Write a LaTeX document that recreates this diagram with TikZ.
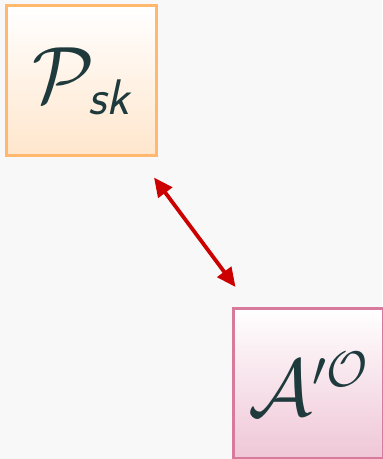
\documentclass[tikz,border=0pt]{standalone}
\usepackage{fix-cm}
\usepackage{amsmath}
\usepackage{amssymb}
\usepackage{tikz}
\usepackage{xcolor}
\usetikzlibrary{arrows.meta,calc}
\DeclareMathSizes{40}{40}{25}{18}

\definecolor{bgcol}{HTML}{F8F8F8}
\definecolor{inkcol}{HTML}{1F3A3D}
\definecolor{orline}{HTML}{FFB86E}
\definecolor{orfill}{HTML}{FFE6CC}
\definecolor{pkline}{HTML}{D87A9C}
\definecolor{pkfill}{HTML}{EFC6D6}
\definecolor{arrcol}{HTML}{CC0000}

\tikzset{
  party/.style={draw, line width=1.5pt, minimum width=75pt, minimum height=75pt,
    inner sep=0pt, text=inkcol, font=\fontsize{40}{46}\selectfont},
  prover/.style={party, draw=orline, top color=white, bottom color=orfill},
  advers/.style={party, draw=pkline, top color=white, bottom color=pkfill},
  link/.style={<->, >={Triangle[length=9.5pt,width=8.5pt]}, line width=1.9pt, arrcol}
}

\begin{document}
\begin{tikzpicture}[x=0.5pt,y=-0.5pt]
    \useasboundingbox (0,0) rectangle (382,459);
    \fill[bgcol] (0,0) rectangle (382,459);
    \node[prover] (psk) at (81.5,81) {$\mathcal{P}_{\textsf{\itshape sk}}$};
    \node[advers] (aor) at (308.5,383.5) {$\mathcal{A}'^{\mathcal{O}}$};
    \draw[link] ($(psk.south east)+(-4,20)$) -- ($(aor.north west)+(3.5,-20)$);
\end{tikzpicture}
\end{document}
